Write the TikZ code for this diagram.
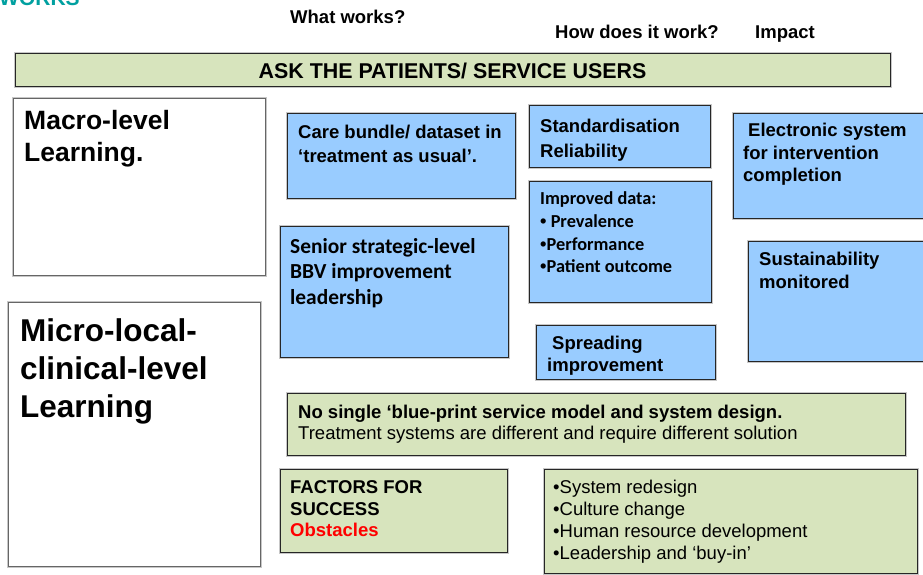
\documentclass[tikz,border=0pt]{standalone}
\usepackage{fontspec}
\setmainfont{Liberation Sans}
\newfontfamily\calfont{Carlito}
\definecolor{boxblue}{RGB}{153,204,255}
\definecolor{boxgreen}{RGB}{215,228,189}
\definecolor{worksteal}{RGB}{0,160,160}
\definecolor{obstred}{RGB}{255,0,0}
\newcommand{\fs}[2]{\fontsize{#1}{#2}\selectfont}
\newcommand{\blt}{{\normalfont\bfseries •}}
\begin{document}
\begin{tikzpicture}[x=1pt,y=-1pt,
  panel/.style={draw=black!85, line width=0.9pt, anchor=north west, inner sep=0pt,
    preaction={draw=black!22, line width=2.4pt}},
  bluebox/.style={panel, fill=boxblue},
  greenbox/.style={panel, fill=boxgreen},
  whitebox/.style={panel, draw=black!60, fill=white},
  txt/.style={anchor=north west, inner sep=0pt, align=left, font=\bfseries\fs{18.5}{24.5}},
  plain/.style={anchor=north west, inner sep=0pt, align=left, font=\fs{18.5}{22}},
]
\useasboundingbox (0,0) rectangle (923,574);
\clip (0,0) rectangle (923,574);
\fill[white] (0,0) rectangle (923,574);

% headings
\node[anchor=base west, inner sep=0pt, text=worksteal, font=\bfseries\fs{21}{24}] (works) at (-1,5) {WORKS};
\node[anchor=base west, inner sep=0pt, font=\bfseries\fs{18.5}{22}] (what) at (290,23) {What works?};
\node[anchor=base west, inner sep=0pt, font=\bfseries\fs{18.5}{22}] (how) at (555,38) {How does it work?};
\node[anchor=base west, inner sep=0pt, font=\bfseries\fs{18.5}{22}] (impact) at (755,38) {Impact};

% patients bar
\node[greenbox, minimum width=875pt, minimum height=33pt] (ask) at (15,53) {};
\node[anchor=base, inner sep=0pt, font=\bfseries\fs{21.4}{24}] (asktxt) at (452.5,78) {ASK THE PATIENTS/ SERVICE USERS};

% learning levels
\node[whitebox, minimum width=252pt, minimum height=177pt] (macro) at (13,98) {};
\node[txt, font=\bfseries\fs{26.5}{32.5}] (macrotxt) at (24,110) {Macro-level\\Learning.};
\node[whitebox, minimum width=252pt, minimum height=264pt] (micro) at (8,302) {};
\node[txt, font=\bfseries\fs{31.5}{38}] (microtxt) at (20,318.5) {Micro-local-\\clinical-level\\Learning};

% what works
\node[bluebox, minimum width=228pt, minimum height=85pt] (care) at (287,113) {};
\node[txt, font=\bfseries\fs{18.5}{24.5}] (caretxt) at (298,124.5) {Care bundle/ dataset in\\‘treatment as usual’.};
\node[bluebox, minimum width=228pt, minimum height=131pt] (senior) at (280,226) {};
\node[txt, font=\calfont\bfseries\fs{21.4}{25.5}] (seniortxt) at (290,238) {Senior strategic-level\\BBV improvement\\leadership};

% how does it work
\node[bluebox, minimum width=181pt, minimum height=62pt] (std) at (529,105) {};
\node[txt, font=\bfseries\fs{18.5}{25}] (stdtxt) at (540,118.5) {Standardisation\\Reliability};
\node[bluebox, minimum width=182pt, minimum height=121pt] (data) at (529,181) {};
\node[txt, font=\calfont\bfseries\fs{18.3}{22.8}] (datatxt) at (540,191.5) {Improved data:\\\blt\ Prevalence\\\blt Performance\\\blt Patient outcome};
\node[bluebox, minimum width=179pt, minimum height=54pt] (spread) at (536,325) {};
\node[txt, font=\bfseries\fs{18.5}{22}] (spreadtxt) at (547,335.5) {\hspace{5pt}Spreading\\improvement};

% impact
\node[bluebox, minimum width=200pt, minimum height=105pt] (elec) at (733,113) {};
\node[txt, font=\bfseries\fs{18.5}{22.5}] (electxt) at (743,123) {\hspace{5pt}Electronic system\\for intervention\\completion};
\node[bluebox, minimum width=190pt, minimum height=120pt] (sust) at (748,241) {};
\node[txt, font=\bfseries\fs{18.5}{23}] (susttxt) at (759,251.5) {Sustainability\\monitored};

% design note
\node[greenbox, minimum width=618pt, minimum height=62pt] (design) at (287,393) {};
\node[txt, font=\bfseries\fs{18.5}{22}] (designtxt) at (298,404.5) {No single ‘blue-print service model and system design.};
\node[plain] (designsub) at (298,426) {Treatment systems are different and require different solution};

% success factors
\node[greenbox, minimum width=227pt, minimum height=83pt] (factors) at (280,469) {};
\node[txt, font=\bfseries\fs{18.5}{21.5}] (factorstxt) at (290,480.5) {FACTORS FOR\\SUCCESS\\\textcolor{obstred}{Obstacles}};
\node[greenbox, minimum width=373pt, minimum height=104pt] (list) at (544,469) {};
\node[plain, font=\fs{18.5}{22}] (listtxt) at (553,480) {•System redesign\\•Culture change\\•Human resource development\\•Leadership and ‘buy-in’};
\end{tikzpicture}
\end{document}
